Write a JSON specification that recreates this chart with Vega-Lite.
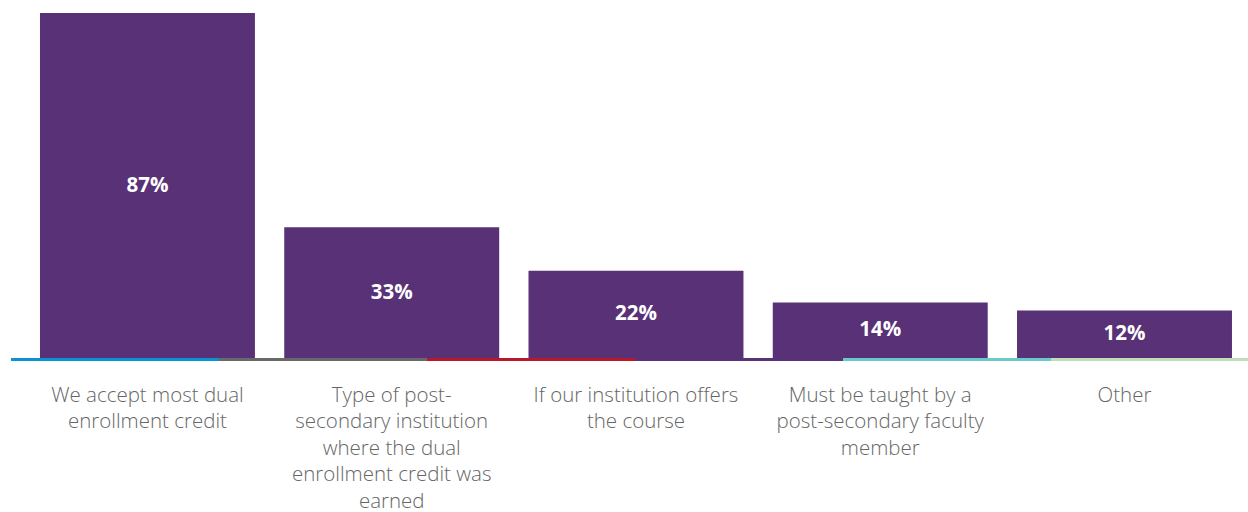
{
  "$schema": "https://vega.github.io/schema/vega-lite/v6.json",
  "width": 1237,
  "height": 358,
  "autosize": {"type": "none"},
  "padding": {"left": 11, "top": 0, "right": 0, "bottom": 154},
  "background": "white",
  "config": {"view": {"stroke": null}},
  "data": {
    "values": [
      {"category": "We accept most dual enrollment credit", "value": 87, "label": "87%"},
      {"category": "Type of post-secondary institution where the dual enrollment credit was earned", "value": 33, "label": "33%"},
      {"category": "If our institution offers the course", "value": 22, "label": "22%"},
      {"category": "Must be taught by a post-secondary faculty member", "value": 14, "label": "14%"},
      {"category": "Other", "value": 12, "label": "12%"}
    ]
  },
  "layer": [
    {
      "data": {"values": [{"segment": "s1"}, {"segment": "s2"}, {"segment": "s3"}, {"segment": "s4"}, {"segment": "s5"}, {"segment": "s6"}]},
      "mark": {"type": "rect", "y2Offset": 3},
      "encoding": {
        "x": {"field": "segment", "type": "nominal", "sort": null, "scale": {"type": "band", "range": [0, 1248], "paddingInner": 0, "paddingOuter": 0}, "axis": null},
        "y": {"datum": 0, "type": "quantitative", "scale": {"domain": [0, 90.28]}, "axis": null},
        "y2": {"datum": 0},
        "color": {"field": "segment", "type": "nominal", "sort": null, "scale": {"range": ["#0A93D2", "#696969", "#B8182C", "#583177", "#6CC9C9", "#BFDDB9"]}, "legend": null}
      }
    },
    {
      "mark": {"type": "bar", "color": "#583177"},
      "encoding": {
        "x": {
          "field": "category", "type": "nominal", "sort": null,
          "scale": {"type": "band", "paddingInner": 0.12, "paddingOuter": 0.0921, "align": 0.644},
          "axis": {
            "title": null, "domain": false, "ticks": false, "labelAngle": 0,
            "labelFont": "Open Sans", "labelFontWeight": 300, "labelFontSize": 20.5, "labelColor": "#666666",
            "labelLineHeight": 26.5, "labelPadding": 27, "labelBaseline": "top", "labelLimit": 0,
            "labelExpr": "datum.value == 'We accept most dual enrollment credit' ? ['We accept most dual', 'enrollment credit'] : datum.value == 'Type of post-secondary institution where the dual enrollment credit was earned' ? ['Type of post-', 'secondary institution', 'where the dual', 'enrollment credit was', 'earned'] : datum.value == 'If our institution offers the course' ? ['If our institution offers', 'the course'] : datum.value == 'Must be taught by a post-secondary faculty member' ? ['Must be taught by a', 'post-secondary faculty', 'member'] : datum.value"
          }
        },
        "y": {"field": "value", "type": "quantitative", "scale": {"domain": [0, 90.28]}, "axis": null}
      }
    },
    {
      "mark": {"type": "text", "color": "white", "font": "Open Sans", "fontWeight": "bold", "fontSize": 20.5, "baseline": "middle", "align": "center"},
      "encoding": {
        "x": {"field": "category", "type": "nominal", "sort": null, "bandPosition": 0.5, "scale": {"type": "band", "paddingInner": 0.12, "paddingOuter": 0.0921, "align": 0.644}, "axis": null},
        "y": {"field": "value", "type": "quantitative", "scale": {"domain": [0, 180.56]}, "axis": null},
        "text": {"field": "label"}
      }
    }
  ],
  "resolve": {"scale": {"x": "independent", "y": "independent", "color": "independent"}}
}
